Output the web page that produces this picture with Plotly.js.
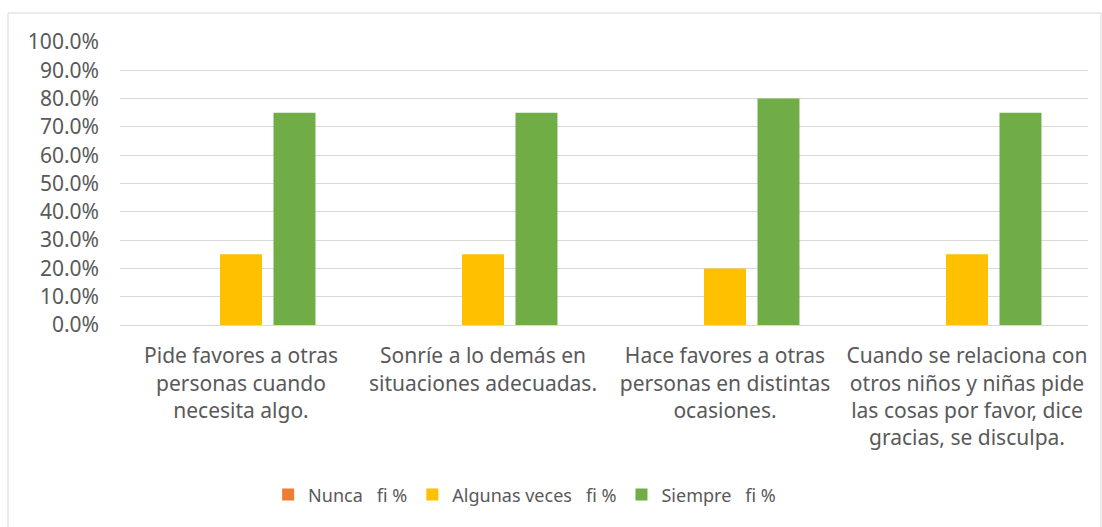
<!DOCTYPE html>
<html>
<head>
<meta charset="utf-8">
<script src="https://cdn.plot.ly/plotly-3.0.1.min.js"></script>
<style>html,body{margin:0;padding:0;background:#fff;}#chart{width:1102px;height:527px;}</style>
</head>
<body>
<div id="chart"></div>
<script>
var categories = ["c1", "c2", "c3", "c4"];
var categoryLabels = [
  "Pide favores a otras<br>personas cuando<br>necesita algo.",
  "Sonríe a lo demás en<br>situaciones adecuadas.",
  "Hace favores a otras<br>personas en distintas<br>ocasiones.",
  "Cuando se relaciona con<br>otros niños y niñas pide<br>las cosas por favor, dice<br>gracias, se disculpa."
];
var seriesNames = ["Nunca\u00a0\u00a0\u00a0fi %", "Algunas veces\u00a0\u00a0\u00a0fi %", "Siempre\u00a0\u00a0\u00a0fi %"];
var nunca = [0, 0, 0, 0];
var algunas = [0.25, 0.25, 0.20, 0.25];
var siempre = [0.75, 0.75, 0.80, 0.75];
var colors = ["#ED7D31", "#FFC000", "#70AD47"];
var yTicks = [0, 0.1, 0.2, 0.3, 0.4, 0.5, 0.6, 0.7, 0.8, 0.9, 1.0];

var seriesData = [nunca, algunas, siempre];
var traces = seriesData.map(function (vals, i) {
  return {
    type: "bar",
    x: categories,
    y: vals,
    name: seriesNames[i],
    marker: {color: colors[i]},
    hoverinfo: "skip"
  };
});

var font = "Noto Sans, Open Sans, sans-serif";
var layout = {
  width: 1102,
  height: 527,
  margin: {l: 120, r: 14, t: 42, b: 202},
  paper_bgcolor: "#ffffff",
  plot_bgcolor: "#ffffff",
  barmode: "group",
  bargap: 0.337,
  bargroupgap: 0.215,
  showlegend: true,
  legend: {
    orientation: "h",
    x: 0.418,
    xanchor: "center",
    y: -0.6,
    yanchor: "middle",
    font: {family: font, size: 18, color: "#595959"},
    itemclick: false,
    traceorder: "normal"
  },
  xaxis: {
    type: "category",
    tickmode: "array",
    tickvals: categories,
    ticktext: categoryLabels,
    tickangle: 0,
    tickfont: {family: font, size: 21, color: "#595959"},
    showgrid: false,
    showline: true,
    linecolor: "#D9D9D9",
    linewidth: 1,
    ticks: "",
    ticklabelstandoff: 12,
    fixedrange: true
  },
  yaxis: {
    range: [0, 1.0],
    tickmode: "array",
    tickvals: yTicks,
    tickformat: ".1%",
    tickfont: {family: font, size: 21, color: "#595959"},
    showgrid: true,
    gridcolor: "#D9D9D9",
    gridwidth: 1,
    zeroline: false,
    showline: false,
    ticks: "",
    ticklabelstandoff: 20,
    fixedrange: true
  },
  shapes: [{
    type: "rect",
    xref: "paper",
    yref: "paper",
    x0: -0.1157,
    x1: 1.0134,
    y0: -0.72,
    y1: 1.1025,
    line: {color: "#D9D9D9", width: 1},
    fillcolor: "rgba(0,0,0,0)",
    layer: "below"
  }]
};

Plotly.newPlot("chart", traces, layout, {displayModeBar: false, staticPlot: true});
</script>
</body>
</html>
